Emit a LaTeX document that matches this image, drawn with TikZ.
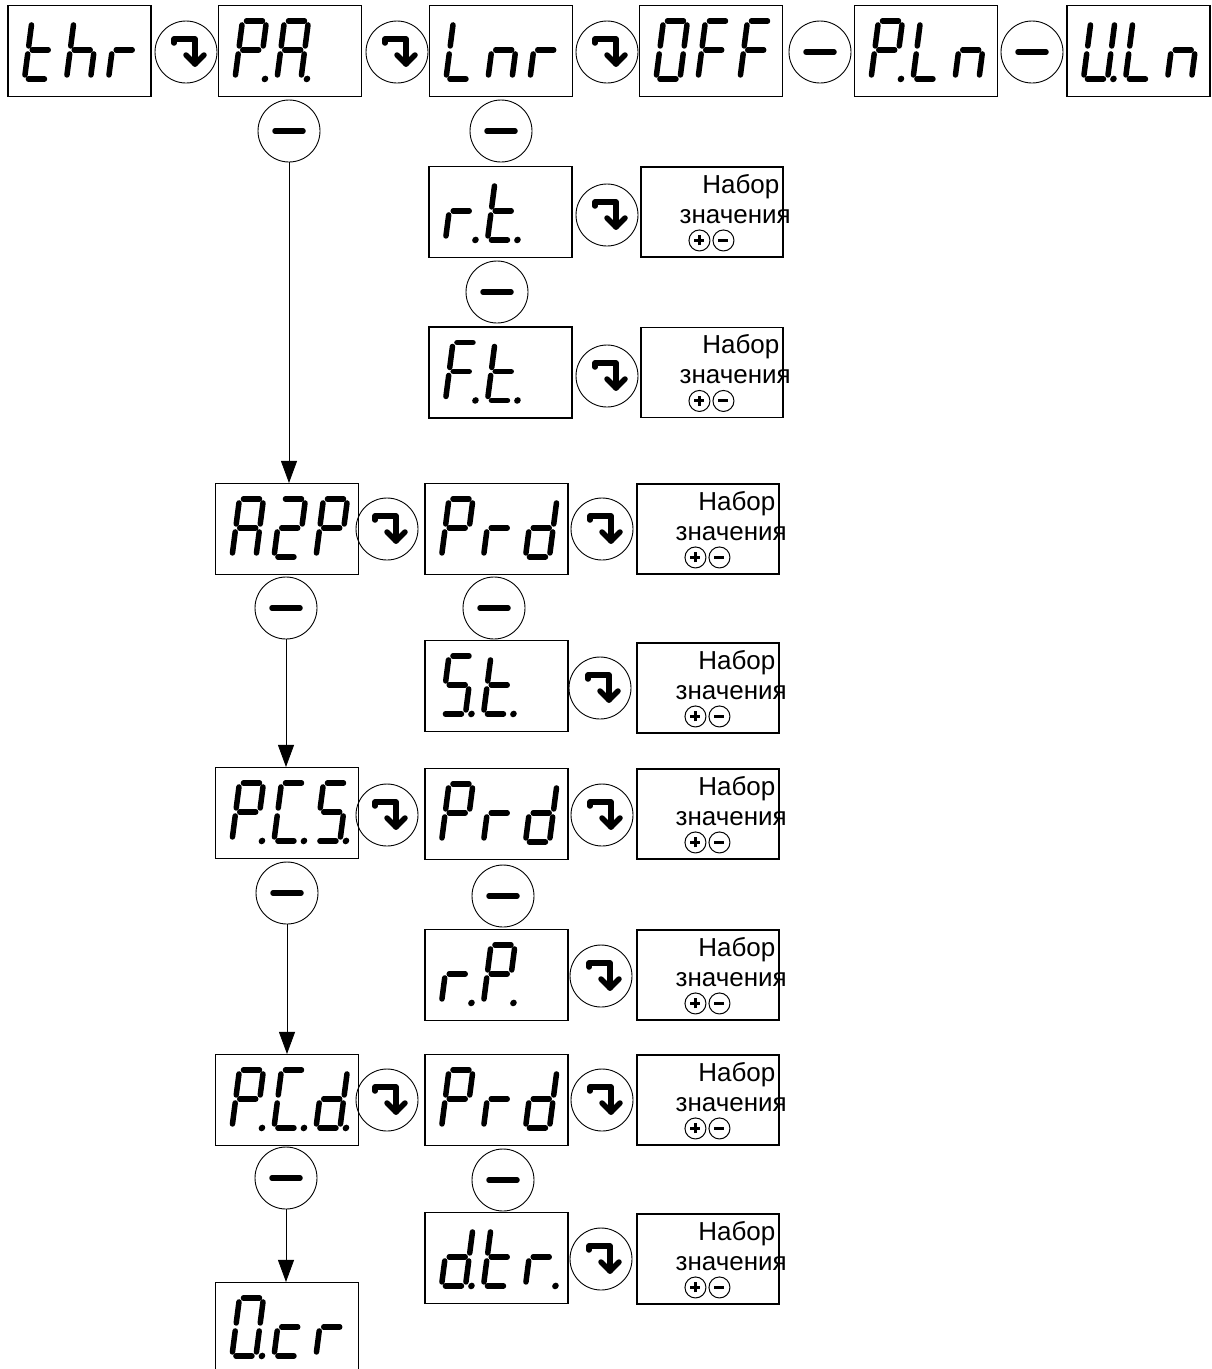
\documentclass[tikz,border=0pt]{standalone}
\usepackage{fontspec}
\setmainfont{Liberation Sans}
\usetikzlibrary{arrows.meta,positioning,calc}

% seven segment pieces (origin at lower left of a digit)
\newcommand{\sega}{\draw[seg] (4,-58) -- (20,-58);}
\newcommand{\segb}{\draw[seg] (24,-54) -- (24,-33);}
\newcommand{\segc}{\draw[seg] (24,-25) -- (24,-4);}
\newcommand{\segd}{\draw[seg] (4,0) -- (20,0);}
\newcommand{\sege}{\draw[seg] (0,-4) -- (0,-25);}
\newcommand{\segf}{\draw[seg] (0,-33) -- (0,-54);}
\newcommand{\segg}{\draw[seg] (4,-29) -- (20,-29);}
\newcommand{\segp}{\fill (30,0) circle (3.3pt);}
\def\segloop#1{\ifx#1\relax\else\csname seg#1\endcsname\expandafter\segloop\fi}
\newcommand{\segs}[1]{\edef\segtmp{#1}\expandafter\segloop\segtmp\relax}

\tikzset{
  seg/.style={line width=5.5pt, line cap=round},
  icon/.style={line width=5.5pt, line cap=round, line join=round},
  disp/.style={draw, line width=1.1pt, minimum width=143pt, minimum height=91pt, inner sep=0pt},
  setbox/.style={draw, line width=1.1pt, minimum width=142pt, minimum height=90pt, inner sep=0pt},
  btn/.style={draw, circle, line width=0.9pt, minimum size=62pt, inner sep=0pt},
  keybtn/.style={draw, circle, line width=1pt, minimum size=21pt, inner sep=0pt},
  keymark/.style={line width=3pt},
  lbl/.style={inner sep=0pt, font=\fontsize{26pt}{30pt}\selectfont},
  wire/.style={line width=0.8pt, -{Triangle[length=22pt,width=16pt]}},
  lcd/.pic={\begin{scope}[xslant=0.13]\segs{#1}\end{scope}},
  turnicon/.pic={
    \draw[icon] (-12,-9) -- (-12,-13) -- (9,-13) -- (9,12);
    \draw[icon] (0,3) -- (9,12) -- (18,3);},
  minusicon/.pic={\draw[icon] (-14,0) -- (14,0);}
}

\newcommand{\lcdtext}[2]{%
  \foreach \glyph [count=\n from 0] in {#2}
    \pic at ([shift={(17+42*\n,74)}]#1.north west) {lcd=\glyph};}
\newcommand{\turnbtn}[2]{\node[btn] (#1) at (#2) {}; \pic at (#1) {turnicon};}
\newcommand{\minusbtn}[2]{\node[btn] (#1) at (#2) {}; \pic at (#1) {minusicon};}
\newcommand{\valbox}[2]{%
  \node[setbox] (#1) at (#2) {};
  \node[lbl, anchor=base east] (#1a) at ([shift={(-4,27)}]#1.north east) {Набор};
  \node[lbl, anchor=base west] (#1b) at ([shift={(39,57)}]#1.north west) {значения};
  \node[keybtn] (#1p) at ([shift={(59,74)}]#1.north west) {};
  \node[keybtn] (#1m) at ([shift={(83,74)}]#1.north west) {};
  \draw[keymark] ([xshift=-5pt]#1p.center) -- ([xshift=5pt]#1p.center)
    ([yshift=-5pt]#1p.center) -- ([yshift=5pt]#1p.center);
  \draw[keymark] ([xshift=-5pt]#1m.center) -- ([xshift=5pt]#1m.center);}

\begin{document}
\begin{tikzpicture}[x=1pt, y=-1pt]
\path[fill=white, use as bounding box] (0,0) rectangle (1211,1369);

% top row
\node[disp] (thr) at (79.5,51) {};
\lcdtext{thr}{defg,cefg,eg}
\turnbtn{bthr}{186,52}
\node[disp] (PA) at (290,51) {};
\lcdtext{PA}{abefgp,abcefgp}
\turnbtn{bPA}{397,52}
\node[disp] (Lnr) at (501,51) {};
\lcdtext{Lnr}{def,ceg,eg}
\turnbtn{bLnr}{607,52}
\node[disp] (OFF) at (711,51) {};
\lcdtext{OFF}{abcdef,aefg,aefg}
\minusbtn{mOFF}{820,52}
\node[disp] (PLn) at (926,51) {};
\lcdtext{PLn}{abefgp,def,ceg}
\minusbtn{mPLn}{1032,52}
\node[disp] (ULn) at (1138.5,51) {};
\lcdtext{ULn}{bcdefp,def,ceg}

% Lnr branch
\minusbtn{mPA}{289,131}
\minusbtn{mLnr}{501,131}
\node[disp] (rt) at (500.5,212) {};
\lcdtext{rt}{egp,defgp}
\turnbtn{brt}{607,215}
\valbox{vrt}{712,212}
\minusbtn{mrt}{497,292}
\node[disp] (Ft) at (500.5,372.5) {};
\lcdtext{Ft}{aefgp,defgp}
\turnbtn{bFt}{607,376}
\valbox{vFt}{712,372.5}

% A2P
\node[disp] (A2P) at (287,529) {};
\lcdtext{A2P}{abcefg,abdeg,abefg}
\turnbtn{bA2P}{387,529}
\node[disp] (PrdA) at (496.5,529) {};
\lcdtext{PrdA}{abefg,eg,bcdeg}
\turnbtn{bPrdA}{602,529}
\valbox{vPrdA}{708,529}
\minusbtn{mA2P}{286,608}
\minusbtn{mPrdA}{494,608}
\node[disp] (St) at (496.5,686) {};
\lcdtext{St}{acdfgp,defgp}
\turnbtn{bSt}{600,688}
\valbox{vSt}{708,688}

% PCS
\node[disp] (PCS) at (287,813) {};
\lcdtext{PCS}{abefgp,adefp,acdfgp}
\turnbtn{bPCS}{387,815}
\node[disp] (PrdB) at (496.5,814) {};
\lcdtext{PrdB}{abefg,eg,bcdeg}
\turnbtn{bPrdB}{602,815}
\valbox{vPrdB}{708,814}
\minusbtn{mPCS}{287,893}
\minusbtn{mPrdB}{503,896}
\node[disp] (rP) at (496.5,975) {};
\lcdtext{rP}{egp,abefgp}
\turnbtn{brP}{601,976}
\valbox{vrP}{708,975}

% PCd
\node[disp] (PCd) at (287,1100) {};
\lcdtext{PCd}{abefgp,adefp,bcdegp}
\turnbtn{bPCd}{387,1100}
\node[disp] (PrdC) at (496.5,1100) {};
\lcdtext{PrdC}{abefg,eg,bcdeg}
\turnbtn{bPrdC}{602,1100}
\valbox{vPrdC}{708,1100}
\minusbtn{mPCd}{286,1178}
\minusbtn{mPrdC}{503,1180}
\node[disp] (dtr) at (496.5,1258) {};
\lcdtext{dtr}{bcdegp,defg,egp}
\turnbtn{bdtr}{601,1259}
\valbox{vdtr}{708,1259}
\node[disp] (Ocr) at (287,1328) {};
\lcdtext{Ocr}{abcdefp,deg,eg}

% left column arrows
\draw[wire] (mPA.south) -- (mPA.south |- A2P.north);
\draw[wire] (mA2P.south) -- (mA2P.south |- PCS.north);
\draw[wire] (mPCS.south) -- (mPCS.south |- PCd.north);
\draw[wire] (mPCd.south) -- (mPCd.south |- Ocr.north);
\end{tikzpicture}
\end{document}
